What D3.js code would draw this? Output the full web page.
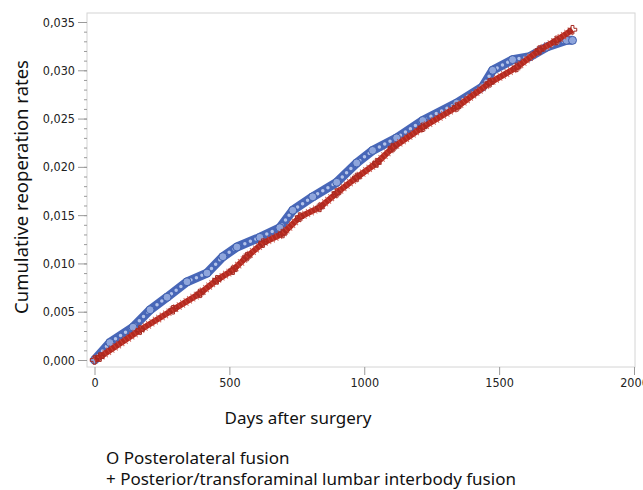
<!DOCTYPE html>
<html>
<head>
<meta charset="utf-8">
<script src="https://cdn.jsdelivr.net/npm/d3@7"></script>
<style>
  body { margin: 0; background: #fff; }
</style>
</head>
<body>
<div id="canvas"></div>
<script>
"use strict"

/* Data: days after surgery and cumulative reoperation rate */
let plDays  = [0, 57, 143, 206, 269, 343, 417, 476, 528, 613, 687, 735, 809, 898, 972, 1031, 1120, 1217, 1343, 1439, 1476, 1550, 1613, 1676, 1750, 1772];
let plRates = [0, 0.0018, 0.0034, 0.0052, 0.0065, 0.0081, 0.0090, 0.0107, 0.0117, 0.0127, 0.0137, 0.0155, 0.0169, 0.0184, 0.0204, 0.0217, 0.0230, 0.0248, 0.0266, 0.0283, 0.0300, 0.0311, 0.0314, 0.0324, 0.0331, 0.0331];

let tlDays  = [0, 20, 169, 291, 391, 454, 513, 565, 624, 698, 761, 835, 898, 972, 1046, 1106, 1217, 1343, 1465, 1565, 1650, 1713, 1772];
let tlRates = [0, 0.0003, 0.0031, 0.0052, 0.0069, 0.0083, 0.0093, 0.0107, 0.0121, 0.0131, 0.0148, 0.0158, 0.0173, 0.0189, 0.0204, 0.0220, 0.0241, 0.0262, 0.0287, 0.0303, 0.0321, 0.0331, 0.0342];

let xTicks = [0, 500, 1000, 1500, 2000];
let yTicks = [0, 0.005, 0.010, 0.015, 0.020, 0.025, 0.030, 0.035];
let legendLabels = ["O Posterolateral fusion", "+ Posterior/transforaminal lumbar interbody fusion"];

/* Drawing settings */
let svgWidth = 643;
let svgHeight = 490;
let frame = {left: 87, top: 13, right: 635, bottom: 367};

let svg = d3.select("#canvas")
  .append("svg")
  .attr("width", svgWidth)
  .attr("height", svgHeight);

let xScale = d3.scaleLinear()
  .domain([0, 2000])
  .range([94.5, 634]);

let yScale = d3.scaleLinear()
  .domain([0, 0.035])
  .range([360, 22]);

// plot frame
svg.append("rect")
  .attr("x", frame.left)
  .attr("y", frame.top)
  .attr("width", frame.right - frame.left)
  .attr("height", frame.bottom - frame.top)
  .attr("fill", "none")
  .attr("stroke", "#d4d4d4")
  .attr("stroke-width", 1);

let tickFont = "'Liberation Sans Narrow', 'DejaVu Sans Condensed', Arial, sans-serif";
let comma = function (d) { return d3.format(".3f")(d).replace(".", ","); };

// x axis
let xAxis = svg.append("g")
  .attr("transform", "translate(0," + frame.bottom + ")")
  .call(d3.axisBottom(xScale).tickValues(xTicks).tickSize(8).tickPadding(3).tickFormat(d3.format("d")));
xAxis.select(".domain").remove();
xAxis.selectAll(".tick line").attr("stroke", "#9a9a9a");
xAxis.selectAll(".tick text")
  .attr("fill", "#222")
  .style("font-family", tickFont)
  .style("font-size", "12.5px");

// y minor ticks
let yMinor = d3.range(0, 36).map(function (i) { return i / 1000; });
svg.append("g")
  .attr("transform", "translate(" + frame.left + ",0)")
  .call(d3.axisLeft(yScale).tickValues(yMinor).tickSize(3).tickFormat(""))
  .call(function (g) { g.select(".domain").remove(); })
  .selectAll(".tick line").attr("stroke", "#9a9a9a");

// y axis
let yAxis = svg.append("g")
  .attr("transform", "translate(" + frame.left + ",0)")
  .call(d3.axisLeft(yScale).tickValues(yTicks).tickSize(9).tickPadding(3).tickFormat(comma));
yAxis.select(".domain").remove();
yAxis.selectAll(".tick line").attr("stroke", "#9a9a9a");
yAxis.selectAll(".tick text")
  .attr("fill", "#222")
  .style("font-family", tickFont)
  .style("font-size", "12.5px");

let line = d3.line()
  .x(function (d) { return xScale(d[0]); })
  .y(function (d) { return yScale(d[1]); });

let plData = d3.zip(plDays, plRates);
let tlData = d3.zip(tlDays, tlRates);

/* Posterolateral fusion: dense blue circles */
svg.append("path")
  .attr("d", line(plData))
  .attr("fill", "none")
  .attr("stroke", "#4867b8")
  .attr("stroke-width", 9)
  .attr("stroke-linejoin", "round");
svg.append("path")
  .attr("d", line(plData))
  .attr("fill", "none")
  .attr("stroke", "#b3c3ea")
  .attr("stroke-width", 3.5)
  .attr("stroke-dasharray", "0,6")
  .attr("stroke-linecap", "round");
svg.selectAll("circle.pl")
  .data(plData)
  .enter()
  .append("circle")
  .attr("class", "pl")
  .attr("cx", function (d) { return xScale(d[0]); })
  .attr("cy", function (d) { return yScale(d[1]); })
  .attr("r", 4)
  .attr("fill", "#8ea5dc")
  .attr("stroke", "#3f5fae")
  .attr("stroke-width", 1);

/* Posterior/transforaminal lumbar interbody fusion: dense red plus signs */
svg.append("path")
  .attr("d", line(tlData))
  .attr("fill", "none")
  .attr("stroke", "#b5291f")
  .attr("stroke-width", 6)
  .attr("stroke-linejoin", "round");
svg.append("path")
  .attr("d", line(tlData))
  .attr("fill", "none")
  .attr("stroke", "#c8473b")
  .attr("stroke-width", 9)
  .attr("stroke-dasharray", "1,3")
  .attr("opacity", 0.8);
svg.selectAll("path.tl")
  .data(tlData)
  .enter()
  .append("path")
  .attr("class", "tl")
  .attr("d", d3.symbol(d3.symbolCross, 40))
  .attr("transform", function (d) { return "translate(" + xScale(d[0]) + "," + yScale(d[1]) + ")"; })
  .attr("fill", "none")
  .attr("stroke", "#a52a22")
  .attr("stroke-width", 1);

// axis titles
let labelFont = "'Noto Sans', 'Open Sans', sans-serif";
svg.append("text")
  .attr("x", 298)
  .attr("y", 424)
  .attr("text-anchor", "middle")
  .style("font-family", labelFont)
  .style("font-size", "17px")
  .attr("fill", "#111")
  .text("Days after surgery");

svg.append("text")
  .attr("transform", "translate(28,187) rotate(-90)")
  .attr("text-anchor", "middle")
  .style("font-family", labelFont)
  .style("font-size", "18.5px")
  .attr("fill", "#111")
  .text("Cumulative reoperation rates");

// legend text
for (let i = 0; i < legendLabels.length; i = i + 1) {
  svg.append("text")
    .attr("x", 106)
    .attr("y", 464 + i * 21)
    .style("font-family", labelFont)
    .style("font-size", "17px")
    .attr("fill", "#111")
    .text(legendLabels[i]);
}
</script>
</body>
</html>
